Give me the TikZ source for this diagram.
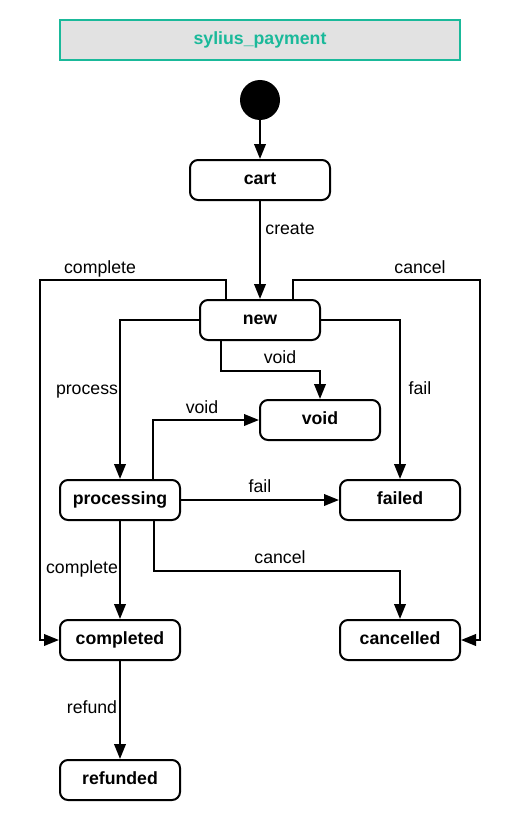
\documentclass[tikz,border=0pt]{standalone}
\usepackage{fontspec}
\setmainfont{Liberation Sans}
\usetikzlibrary{arrows.meta}
\definecolor{teal1}{HTML}{1AB99A}
\definecolor{titlefill}{HTML}{E2E2E2}
\tikzset{
  stbox/.style={draw, line width=2pt, rounded corners=8pt, minimum width=120pt, minimum height=40pt, inner sep=0pt, text height=12pt, text depth=3pt, font=\bfseries\fontsize{17.7}{20}\selectfont},
  conn/.style={line width=2.2pt, -{Triangle[length=15pt,width=11.5pt]}},
  lbl/.style={font=\fontsize{17.7}{20}\selectfont, inner sep=0pt, anchor=base},
}
\begin{document}
\begin{tikzpicture}[x=1pt,y=-1pt]
\useasboundingbox (0,0) rectangle (520,840);
\node[draw=teal1, fill=titlefill, line width=2pt, minimum width=400pt, minimum height=40pt, inner sep=0pt, text height=12pt, text depth=3pt, text=teal1, font=\bfseries\fontsize{17.7}{20}\selectfont] (title) at (260,40) {sylius\_payment};
\node[circle, fill=black, minimum size=40pt, inner sep=0pt] (start) at (260,100) {};
\node[stbox, minimum width=140pt] (cart) at (260,180) {cart};
\node[stbox] (new) at (260,320) {new};
\node[stbox] (void) at (320,420) {void};
\node[stbox] (processing) at (120,500) {processing};
\node[stbox] (failed) at (400,500) {failed};
\node[stbox] (completed) at (120,640) {completed};
\node[stbox] (cancelled) at (400,640) {cancelled};
\node[stbox] (refunded) at (120,780) {refunded};
\coordinate (cL) at (40,280);
\coordinate (cR) at (480,280);
\coordinate (cV) at (320,371);
\coordinate (cC) at (400,571);
\draw[conn] (start.south) -- (cart.north);
\draw[conn] (cart.south) -- (new.north);
\draw[conn] ([xshift=-34pt]new.north) |- (cL) |- (completed.west);
\draw[conn] ([xshift=33pt]new.north) |- (cR) |- (cancelled.east);
\draw[conn] (new.west) -| (processing.north);
\draw[conn] (new.east) -| (failed.north);
\draw[conn] ([xshift=-39pt]new.south) |- (cV) -- (void.north);
\draw[conn] ([xshift=33pt]processing.north) |- (void.west);
\draw[conn] (processing.east) -- (failed.west);
\draw[conn] (processing.south) -- (completed.north);
\draw[conn] ([xshift=34pt]processing.south) |- (cC) -- (cancelled.north);
\draw[conn] (completed.south) -- (refunded.north);
\node[lbl] (l1) at (290,234.5) {create};
\node[lbl] (l2) at (100,273.5) {complete};
\node[lbl] (l3) at (420,273.5) {cancel};
\node[lbl] (l4) at (280,363.5) {void};
\node[lbl] (l5) at (87,394.5) {process};
\node[lbl] (l6) at (420,394.5) {fail};
\node[lbl] (l7) at (202,413.5) {void};
\node[lbl] (l8) at (260,492.5) {fail};
\node[lbl] (l9) at (280,563.5) {cancel};
\node[lbl] (l10) at (82,573.5) {complete};
\node[lbl] (l11) at (92,713.5) {refund};
\end{tikzpicture}
\end{document}
